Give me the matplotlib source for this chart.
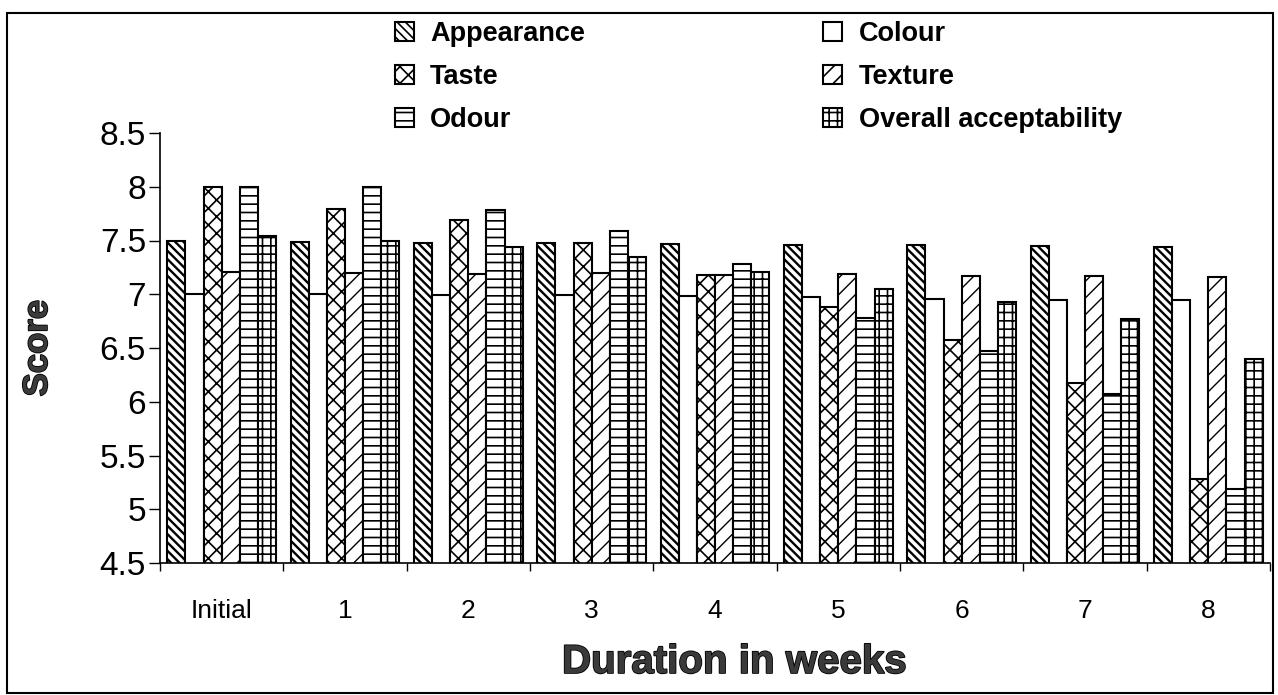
import matplotlib.pyplot as plt
import matplotlib.patheffects as pe
from matplotlib.patches import Rectangle
import numpy as np

plt.rcParams['font.family'] = ['Liberation Sans', 'DejaVu Sans']
plt.rcParams['hatch.linewidth'] = 1.2

weeks = ["Initial", "1", "2", "3", "4", "5", "6", "7", "8"]
appearance = [7.50, 7.49, 7.48, 7.48, 7.47, 7.46, 7.46, 7.45, 7.44]
colour = [7.00, 7.00, 6.99, 6.99, 6.98, 6.97, 6.96, 6.95, 6.95]
taste = [8.00, 7.79, 7.69, 7.48, 7.18, 6.88, 6.57, 6.17, 5.28]
texture = [7.21, 7.20, 7.19, 7.20, 7.18, 7.19, 7.17, 7.17, 7.16]
odour = [8.00, 8.00, 7.78, 7.59, 7.28, 6.78, 6.47, 6.07, 5.19]
overall = [7.54, 7.50, 7.44, 7.35, 7.21, 7.05, 6.93, 6.77, 6.40]

# name, values, hatch, hatch line width
series = [
    ("Appearance", appearance, "\\\\\\\\", 1.7),
    ("Colour", colour, "", 1.2),
    ("Taste", taste, "xx", 1.2),
    ("Texture", texture, "//", 1.0),
    ("Odour", odour, "--", 1.2),
    ("Overall acceptability", overall, "++", 1.2),
]

fig = plt.figure(figsize=(12.78, 6.95), dpi=100)
ax = fig.add_axes([160 / 1278, 1 - 563 / 695, 1110 / 1278, 430 / 695])

x = np.arange(len(weeks))
w = 0.147
handles = {}
for i, (name, vals, hatch, hlw) in enumerate(series):
    with plt.rc_context({'hatch.linewidth': hlw}):
        bars = ax.bar(x + (i - 2.5) * w, vals, w, facecolor="white", edgecolor="black",
                      linewidth=1.5, hatch=hatch, label=name)
    handles[name] = bars

ax.set_xlim(-0.5, len(weeks) - 0.5)
ax.set_ylim(4.5, 8.5)
ax.set_yticks(np.arange(4.5, 8.51, 0.5))
ax.set_yticklabels(["4.5", "5", "5.5", "6", "6.5", "7", "7.5", "8", "8.5"])
ax.tick_params(axis="y", labelsize=24, length=8, width=1, pad=2)

# group boundaries get the tick marks, group centres get the labels
ax.set_xticks(np.arange(-0.5, len(weeks)), minor=False)
ax.set_xticklabels([])
ax.set_xticks(x, minor=True)
ax.set_xticklabels(weeks, minor=True)
ax.tick_params(axis="x", which="major", length=6, width=1)
ax.tick_params(axis="x", which="minor", length=0, labelsize=19, pad=26)

for s in ["top", "right"]:
    ax.spines[s].set_visible(False)
ax.spines["left"].set_linewidth(1.2)
ax.spines["bottom"].set_linewidth(1.2)

outline = [pe.withStroke(linewidth=1.2, foreground="black")]
ax.set_ylabel("Score", fontsize=25, fontweight="bold", color="#3a3a3a", path_effects=outline)
ax.yaxis.set_label_coords(-106 / 1110, 0.5)
fig.text(734 / 1278, 1 - 662 / 695, "Duration in weeks", fontsize=29, fontweight="bold",
         color="#3a3a3a", path_effects=outline, ha="center", va="center")

order = ["Appearance", "Taste", "Odour", "Colour", "Texture", "Overall acceptability"]
leg = fig.legend([handles[n] for n in order], order, loc="upper left",
                 bbox_to_anchor=(395 / 1278, 1 - 21 / 695), ncol=2, frameon=False,
                 prop={"size": 19.5, "weight": "bold"}, handlelength=0.7, handleheight=0.7,
                 handletextpad=0.6, columnspacing=8.8, labelspacing=0.62,
                 borderpad=0, borderaxespad=0)

fig.patches.append(Rectangle((7 / 1278, 1 - 693 / 695), 1266 / 1278, 680 / 695,
                             transform=fig.transFigure, fill=False, edgecolor="black", linewidth=1.5))

fig.savefig("out.png", dpi=100)
